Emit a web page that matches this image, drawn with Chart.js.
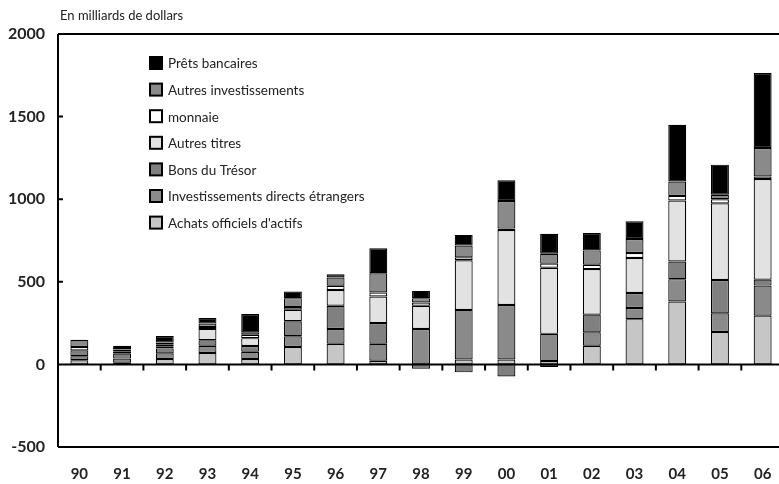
<!DOCTYPE html>
<html>
<head>
<meta charset="utf-8">
<script src="https://cdn.jsdelivr.net/npm/chart.js@4"></script>
<style>
  html, body { margin:0; padding:0; background:#fff; overflow:hidden; }
  #wrap { width:779px; height:484px; overflow:hidden; }
  canvas { display:block; }
</style>
</head>
<body>
<div id="wrap"><canvas id="c" width="800" height="484"></canvas></div>
<script>
/* Flux de capitaux - stacked bars, Chart.js */
const years = ['90','91','92','93','94','95','96','97','98','99','00','01','02','03','04','05','06'];

// series (milliards de dollars), bottom of stack first
const achats       = [25, 10, 32, 69, 32, 105, 125, 22, 0, 30, 30, 20, 113, 274, 381, 196, 295];
const ide          = [24, 25, 35, 44, 45, 65, 89, 103, 214, 300, 330, 165, 81, 67, 135, 113, 182];
const bons         = [36, 30, 30, 33, 34, 91, 141, 125, -26, -48, -73, -16, 107, 91, 107, 202, 36];
const autresTitres = [0, 15, 10, 69, 48, 70, 95, 161, 141, 300, 454, 400, 276, 212, 369, 464, 609];
const monnaie      = [20, 10, 15, 12, 20, 16, 26, 24, 20, 18, 8, 25, 26, 30, 28, 25, 16];
const autresInv    = [44, 15, 10, 20, 15, 54, 50, 117, 26, 71, 167, 60, 87, 85, 87, 27, 172];
const prets        = [0, 8, 40, 34, 111, 40, 20, 151, 44, 65, 125, 121, 105, 107, 343, 182, 454];

const yTicks = [-500, 0, 500, 1000, 1500, 2000];
const FONT = 'Lato, "Open Sans", sans-serif';

const ds = (label, data, color) => ({
  label, data, backgroundColor: color, borderColor: '#000', borderWidth: 1.2,
  borderSkipped: false, barPercentage: 0.42, categoryPercentage: 1.0
});

const datasets = [
  ds("Achats officiels d'actifs", achats, '#c6c6c6'),
  ds('Investissements directs étrangers', ide, '#8a8a8a'),
  ds('Bons du Trésor', bons, '#808080'),
  ds('Autres titres', autresTitres, '#e2e2e2'),
  ds('monnaie', monnaie, '#ffffff'),
  ds('Autres investissements', autresInv, '#8a8a8a'),
  ds('Prêts bancaires', prets, '#000000'),
];

// frame, zero line, small ticks, title and legend
const decor = {
  id: 'decor',
  afterDatasetsDraw(chart){
    const {ctx, chartArea:a, scales:{x, y}} = chart;
    ctx.save();
    ctx.strokeStyle = '#000';
    ctx.lineWidth = 2;
    ctx.beginPath();
    ctx.moveTo(a.left, a.top); ctx.lineTo(a.right, a.top);
    ctx.moveTo(a.left, a.top); ctx.lineTo(a.left, a.bottom);
    ctx.moveTo(a.left, a.bottom); ctx.lineTo(a.right, a.bottom);
    const y0 = y.getPixelForValue(0);
    ctx.moveTo(a.left, y0); ctx.lineTo(a.right, y0);
    for(let i=1;i<years.length;i++){
      const xm = (x.getPixelForTick(i-1) + x.getPixelForTick(i))/2;
      ctx.moveTo(xm, y0); ctx.lineTo(xm, y0+6);
    }
    [500, 1000, 1500].forEach(v=>{
      const yy = y.getPixelForValue(v);
      ctx.moveTo(a.left, yy); ctx.lineTo(a.left+5, yy);
    });
    ctx.stroke();

    ctx.fillStyle = '#222';
    ctx.font = `13px ${FONT}`;
    ctx.textBaseline = 'middle';
    ctx.textAlign = 'left';
    ctx.fillText('En milliards de dollars', 60, 16);

    // legend, reversed order
    ctx.font = `13.5px ${FONT}`;
    const items = [...chart.data.datasets].reverse();
    items.forEach((d, i)=>{
      const cy = 63 + i*26.6;
      ctx.fillStyle = d.backgroundColor;
      ctx.fillRect(150, cy-6, 12, 12);
      ctx.lineWidth = 2;
      ctx.strokeRect(150, cy-6, 12, 12);
      ctx.fillStyle = '#222';
      ctx.fillText(d.label, 168, cy+1);
    });
    ctx.restore();
  }
};

new Chart(document.getElementById('c'), {
  type: 'bar',
  data: { labels: years, datasets },
  plugins: [decor],
  options: {
    responsive: false,
    animation: false,
    layout: { padding: { top: 34, right: 16, bottom: 0, left: 0 } },
    plugins: { legend: { display:false }, tooltip: { enabled:false } },
    scales: {
      x: {
        stacked: true,
        grid: { display:false, drawTicks:false },
        border: { display:false },
        ticks: { color:'#222', padding: 18, font: { family: FONT, size: 15, weight: 'bold' } },
        afterFit: (s)=>{ s.height = 37; }
      },
      y: {
        stacked: true,
        min: -500, max: 2000,
        afterBuildTicks: (s)=>{ s.ticks = yTicks.map(v=>({value:v})); },
        grid: { display:false, drawTicks:false },
        border: { display:false },
        ticks: { color:'#222', padding: 13, font: { family: FONT, size: 16, weight: 'bold' },
                 callback: (v)=> String(v) },
        afterFit: (s)=>{ s.width = 58; }
      }
    }
  }
});
</script>
</body>
</html>
